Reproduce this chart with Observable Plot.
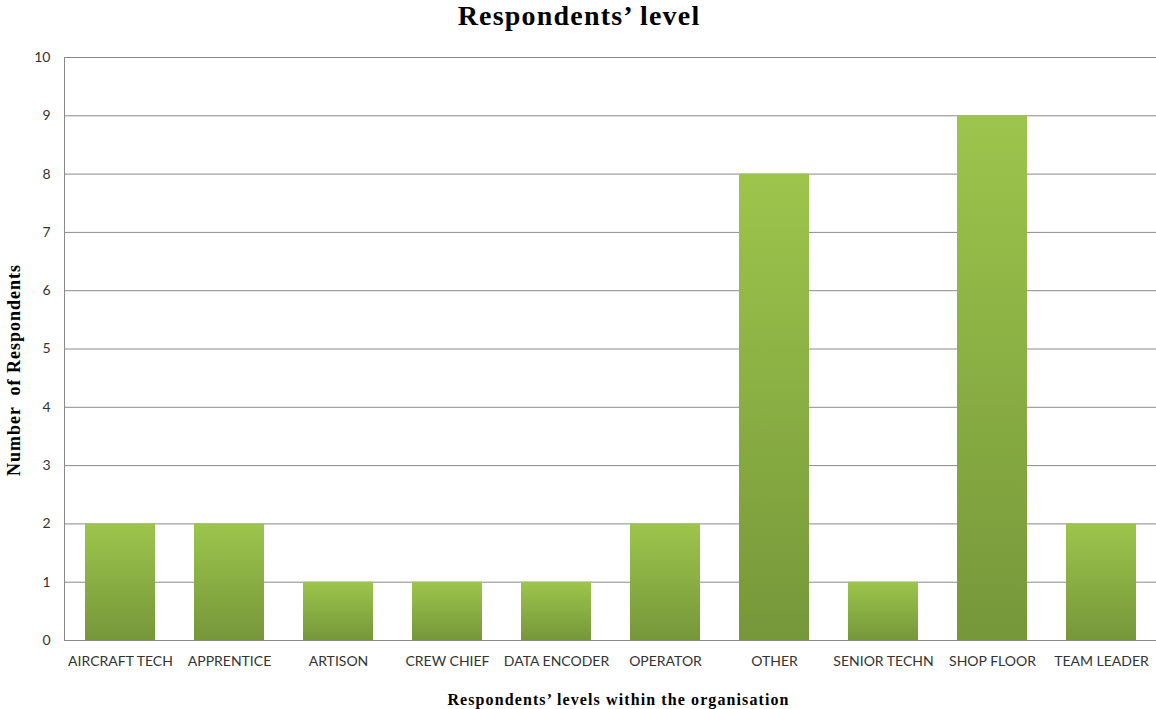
<!DOCTYPE html>
<html>
<head>
<meta charset="utf-8">
<script src="https://cdn.jsdelivr.net/npm/d3@7"></script>
<script src="https://cdn.jsdelivr.net/npm/@observablehq/plot@0.6"></script>
<style>
  body { margin: 0; background: #fff; }
  #title {
    height: 40px; line-height: 38px; text-align: center;
    font: bold 28px "Liberation Serif", "Times New Roman", serif; color: #000;
    letter-spacing: 1.2px; padding-left: 2px;
  }
  [aria-description="y-title"] text { letter-spacing: 1px; }
  [aria-description="x-title"] text { letter-spacing: 1.1px; }
</style>
</head>
<body>
<div id="title">Respondents’ level</div>
<div id="chart"></div>
<script>
// Respondents per level within the organisation
const levels = [
  "AIRCRAFT TECH", "APPRENTICE", "ARTISON", "CREW CHIEF", "DATA ENCODER",
  "OPERATOR", "OTHER", "SENIOR TECHN", "SHOP FLOOR", "TEAM LEADER"
];
const respondents = [2, 2, 1, 1, 1, 2, 8, 1, 9, 2];
const yTicks = [0, 1, 2, 3, 4, 5, 6, 7, 8, 9, 10];

const yTitle = "Number  of Respondents";
const xTitle = "Respondents’ levels within the organisation";

const rows = levels.map((level, i) => ({level, count: respondents[i]}));
const ns = "http://www.w3.org/2000/svg";

// vertical light-to-dark green fill, applied per bar
const gradientDefs = () => {
  const defs = document.createElementNS(ns, "defs");
  const grad = document.createElementNS(ns, "linearGradient");
  grad.setAttribute("id", "barFill");
  grad.setAttribute("x1", "0"); grad.setAttribute("y1", "0");
  grad.setAttribute("x2", "0"); grad.setAttribute("y2", "1");
  [["0%", "#9dc54c"], ["100%", "#76973a"]].forEach(([o, c]) => {
    const s = document.createElementNS(ns, "stop");
    s.setAttribute("offset", o); s.setAttribute("stop-color", c);
    grad.appendChild(s);
  });
  defs.appendChild(grad);
  return defs;
};

// vertical value-axis line along the left edge of the plot area
const leftAxisLine = (index, scales, values, dims) => {
  const line = document.createElementNS(ns, "line");
  const x = dims.marginLeft + 0.5;
  line.setAttribute("x1", x); line.setAttribute("x2", x);
  line.setAttribute("y1", scales.y(10)); line.setAttribute("y2", scales.y(0));
  line.setAttribute("stroke", "#8a8a8a");
  return line;
};

const chart = Plot.plot({
  width: 1156,
  height: 669,
  marginTop: 17,
  marginBottom: 69,
  marginLeft: 64,
  marginRight: 0,
  style: {fontFamily: "Lato, 'Liberation Sans', sans-serif", fontSize: "14px", color: "#333", background: "#fff"},
  x: {domain: levels, paddingInner: 0.36, paddingOuter: 0.18, label: null},
  y: {domain: [0, 10], label: null},
  marks: [
    gradientDefs,
    Plot.ruleY(yTicks, {stroke: "#8a8a8a", strokeWidth: 1}),
    leftAxisLine,
    Plot.barY(rows, {x: "level", y: "count", fill: "url(#barFill)"}),
    Plot.axisY({ticks: yTicks, tickSize: 0, tickPadding: 14, label: null, tickFormat: d => String(d)}),
    Plot.axisX({tickSize: 0, tickPadding: 16, label: null}),
    Plot.text([yTitle], {
      ariaDescription: "y-title",
      frameAnchor: "left", textAnchor: "middle", lineAnchor: "middle", rotate: -90, dx: -50, dy: 21,
      fontFamily: "'Liberation Serif', 'Times New Roman', serif", fontWeight: "bold", fontSize: 18, fill: "#000"
    }),
    Plot.text([xTitle], {
      ariaDescription: "x-title",
      frameAnchor: "bottom", textAnchor: "middle", lineAnchor: "middle", dx: 8, dy: 59,
      fontFamily: "'Liberation Serif', 'Times New Roman', serif", fontWeight: "bold", fontSize: 16, fill: "#000"
    })
  ]
});

document.getElementById("chart").appendChild(chart);
</script>
</body>
</html>
